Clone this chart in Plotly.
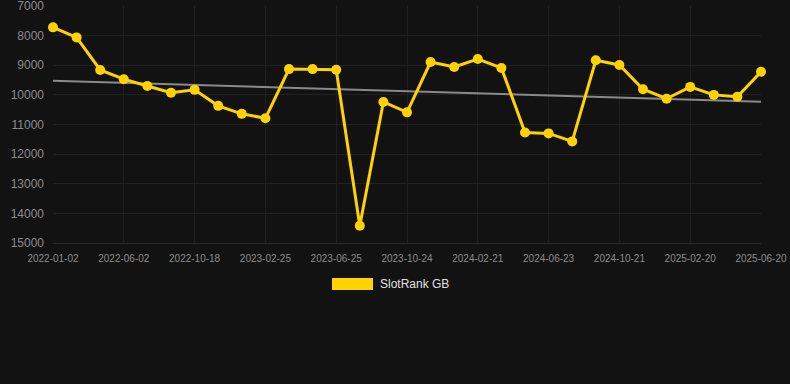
import plotly.graph_objects as go

dates = [
    "2022-01-02", "2022-02-21", "2022-04-12", "2022-06-02", "2022-07-18", "2022-09-02",
    "2022-10-18", "2022-11-30", "2023-01-12", "2023-02-25", "2023-04-06", "2023-05-16",
    "2023-06-25", "2023-08-04", "2023-09-13", "2023-10-24", "2023-12-03", "2024-01-12",
    "2024-02-21", "2024-04-01", "2024-05-12", "2024-06-23", "2024-08-02", "2024-09-11",
    "2024-10-21", "2024-11-30", "2025-01-10", "2025-02-20", "2025-04-01", "2025-05-11",
    "2025-06-20",
]
rank = [
    7720, 8060, 9160, 9470, 9700, 9930, 9830, 10370, 10640, 10790,
    9130, 9130, 9150, 14420, 10240, 10590, 8890, 9060, 8790, 9090,
    11270, 11300, 11570, 8830, 8990, 9810, 10130, 9730, 10000, 10060,
    9220,
]
trend_ends = [9520, 10230]
y_ticks = [7000, 8000, 9000, 10000, 11000, 12000, 13000, 14000, 15000]
series_name = "SlotRank GB"

idx = list(range(len(dates)))
label_idx = idx[::3]

fig = go.Figure()
fig.add_trace(go.Scatter(
    x=[idx[0], idx[-1]], y=trend_ends, mode="lines",
    line=dict(color="#8a8a8a", width=2), showlegend=False, hoverinfo="skip"))
fig.add_trace(go.Scatter(
    x=idx, y=rank, mode="lines+markers", name=series_name,
    line=dict(color="#FFD200", width=3),
    marker=dict(color="#FFD200", size=10), showlegend=False, cliponaxis=False))

fig.update_layout(
    width=790, height=384,
    paper_bgcolor="#121212", plot_bgcolor="#121212",
    margin=dict(l=53, r=29, t=6, b=141),
    font=dict(family="Liberation Sans, Arial, sans-serif"),
    xaxis=dict(
        range=[0, len(dates) - 1], tickmode="array", tickvals=label_idx,
        ticktext=[dates[i] for i in label_idx],
        showgrid=True, gridcolor="#1f1f1f", gridwidth=1, zeroline=False,
        showline=True, linecolor="#2a2a2a", automargin=False,
        tickfont=dict(size=10, color="#8c8c8c"), ticks="", ticklabelstandoff=6,
        ticklabeloverflow="allow",
    ),
    yaxis=dict(
        range=[15000.5, 6999.5], tickmode="array", tickvals=y_ticks,
        ticktext=[str(v) for v in y_ticks], automargin=False,
        showgrid=True, gridcolor="#222222", gridwidth=1, zeroline=False,
        tickfont=dict(size=12, color="#8c8c8c"), ticks="", ticklabelstandoff=8,
        ticklabeloverflow="allow",
    ),
    showlegend=False,
    shapes=[dict(type="rect", xref="paper", yref="paper",
                 x0=(332 - 53) / 708, x1=(373 - 53) / 708,
                 y0=(243 - 290) / 237, y1=(243 - 278) / 237,
                 fillcolor="#FFD200", line=dict(width=0))],
    annotations=[dict(text=series_name, xref="paper", yref="paper",
                      x=(378 - 53) / 708, y=(243 - 284) / 237,
                      xanchor="left", yanchor="middle", showarrow=False,
                      font=dict(size=12, color="#e0e0e0"))],
)

fig.write_html(
    "out.html",
    config={"displayModeBar": False},
    post_script="document.body.style.margin='0';document.body.style.background='#121212';",
)
